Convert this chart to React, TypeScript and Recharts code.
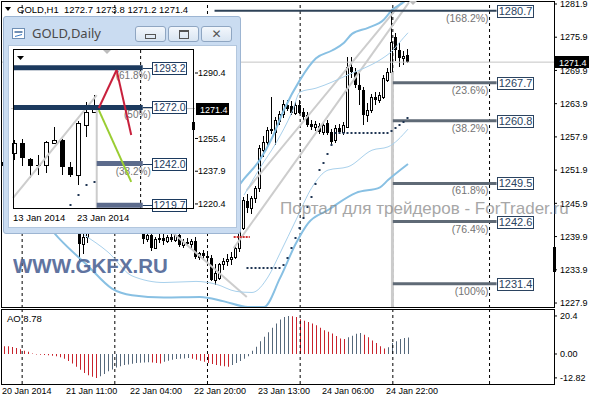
import React from "react";
import { ComposedChart, Bar, Line, Scatter, XAxis, YAxis, ReferenceLine, Cell } from "recharts";

const FONT = '"Liberation Sans", Arial, sans-serif';
const SLOTS = 138; // hourly slots, incl. the empty shift on the right
const DSLOTS = 23; // daily slots in the small window

// ---------- GOLD,H1 ----------
const priceTicks = [1281.9, 1275.9, 1269.9, 1263.9, 1257.9, 1251.9, 1245.9, 1239.9, 1233.9, 1227.9];
const lastPrice = 1271.4;
const timeTicks = [0, 16, 32, 48, 64, 80, 96];
const timeLabels = ["20 Jan 2014", "21 Jan 11:00", "22 Jan 04:00", "22 Jan 20:00", "23 Jan 13:00", "24 Jan 06:00", "24 Jan 22:00"];

// [open, high, low, close]
const h1Candles = [
  [1252.8, 1254.2, 1251.6, 1253.4], [1253.4, 1254.6, 1252.5, 1253.0], [1253.0, 1253.8, 1251.9, 1252.2],
  [1252.2, 1253.0, 1250.8, 1251.4], [1251.4, 1252.6, 1250.6, 1252.0], [1252.0, 1252.8, 1250.9, 1251.2],
  [1251.2, 1251.9, 1249.8, 1250.3], [1250.3, 1251.5, 1249.6, 1250.9], [1250.9, 1251.6, 1249.9, 1250.4],
  [1250.4, 1251.2, 1249.2, 1249.6], [1249.6, 1250.6, 1248.8, 1250.1], [1250.1, 1250.8, 1248.9, 1249.3],
  [1249.3, 1250.0, 1247.6, 1248.0], [1248.0, 1248.9, 1246.4, 1246.9], [1246.9, 1247.8, 1245.3, 1245.8],
  [1245.8, 1246.5, 1243.9, 1244.5], [1244.5, 1245.6, 1242.8, 1243.4], [1243.4, 1244.2, 1241.5, 1242.0],
  [1242.0, 1243.0, 1240.9, 1241.6], [1241.6, 1242.1, 1235.7, 1238.6], [1238.6, 1240.8, 1236.8, 1239.9],
  [1239.9, 1241.5, 1238.8, 1240.8], [1240.8, 1243.2, 1240.7, 1242.6], [1242.6, 1244.1, 1241.9, 1243.5],
  [1243.5, 1244.8, 1242.7, 1244.2], [1244.2, 1245.3, 1243.4, 1244.0], [1244.0, 1245.6, 1243.2, 1245.1],
  [1245.1, 1246.2, 1244.3, 1244.6], [1244.6, 1245.4, 1243.5, 1243.9], [1243.9, 1244.9, 1242.8, 1244.3],
  [1244.3, 1245.0, 1242.9, 1243.2], [1243.2, 1244.1, 1242.1, 1242.7], [1242.7, 1243.6, 1241.6, 1243.0],
  [1243.0, 1243.5, 1241.4, 1241.9], [1241.9, 1242.8, 1240.9, 1241.3], [1241.3, 1241.6, 1238.6, 1239.4],
  [1239.4, 1240.6, 1238.9, 1240.1], [1240.1, 1240.5, 1237.3, 1237.9], [1237.9, 1239.8, 1237.6, 1239.4],
  [1239.4, 1240.3, 1238.8, 1239.6], [1239.6, 1240.4, 1238.3, 1239.1], [1239.1, 1240.2, 1238.7, 1239.8],
  [1239.8, 1240.5, 1238.9, 1239.3], [1239.3, 1240.8, 1239.0, 1240.2], [1240.2, 1240.9, 1238.0, 1238.4],
  [1238.4, 1239.4, 1237.9, 1239.0], [1239.0, 1239.6, 1238.2, 1238.6], [1238.6, 1239.5, 1237.8, 1239.1],
  [1239.1, 1239.8, 1235.9, 1236.2], [1236.2, 1237.2, 1235.6, 1236.9], [1236.9, 1237.5, 1235.7, 1236.4],
  [1236.4, 1237.0, 1235.2, 1236.0], [1236.0, 1236.6, 1231.8, 1232.0], [1232.0, 1235.0, 1231.1, 1233.4],
  [1232.5, 1235.2, 1232.0, 1234.9], [1234.9, 1236.0, 1233.9, 1235.5], [1235.5, 1236.8, 1234.6, 1235.9],
  [1235.9, 1237.2, 1234.8, 1236.2], [1236.2, 1238.2, 1235.8, 1237.8], [1237.8, 1242.0, 1237.2, 1241.5],
  [1241.5, 1247.0, 1241.0, 1246.5], [1246.3, 1247.6, 1244.2, 1245.0], [1245.0, 1247.2, 1244.0, 1246.8],
  [1246.8, 1249.0, 1246.0, 1248.6], [1248.7, 1256.4, 1248.0, 1255.9], [1255.6, 1258.0, 1254.3, 1257.0],
  [1256.9, 1259.6, 1256.0, 1259.1], [1259.1, 1265.1, 1258.5, 1259.3], [1258.8, 1261.5, 1256.5, 1261.0],
  [1260.8, 1262.6, 1260.0, 1262.0], [1262.0, 1264.5, 1261.4, 1263.8], [1263.6, 1264.6, 1262.6, 1263.0],
  [1263.5, 1264.4, 1261.8, 1262.3], [1262.3, 1264.2, 1261.9, 1263.7], [1263.7, 1264.5, 1262.0, 1262.3],
  [1262.4, 1263.2, 1261.0, 1261.5], [1261.8, 1262.4, 1259.6, 1260.0], [1260.3, 1261.0, 1259.2, 1259.6],
  [1259.6, 1260.8, 1259.0, 1260.2], [1259.8, 1260.4, 1258.4, 1258.8], [1258.8, 1260.6, 1258.3, 1260.0],
  [1260.4, 1261.0, 1258.2, 1258.6], [1258.8, 1259.4, 1256.4, 1257.0], [1257.3, 1260.0, 1256.8, 1259.5],
  [1259.5, 1260.2, 1258.4, 1258.8], [1258.8, 1260.6, 1258.2, 1260.0], [1259.7, 1272.3, 1259.5, 1270.5],
  [1270.5, 1272.3, 1268.5, 1269.6], [1269.6, 1270.4, 1266.8, 1267.3], [1267.3, 1269.4, 1263.7, 1266.4],
  [1266.4, 1267.0, 1260.0, 1261.9], [1261.9, 1264.0, 1260.6, 1262.8], [1262.8, 1265.6, 1262.2, 1265.1],
  [1265.1, 1266.0, 1263.6, 1264.6], [1264.6, 1266.0, 1264.0, 1265.5], [1265.1, 1269.0, 1264.8, 1268.5],
  [1268.2, 1270.4, 1267.8, 1269.6], [1269.6, 1280.6, 1269.2, 1275.0], [1275.9, 1276.6, 1271.6, 1273.6],
  [1273.6, 1275.0, 1270.5, 1272.2], [1272.2, 1273.4, 1270.8, 1272.5], [1272.7, 1273.8, 1271.2, 1271.4],
];

const aoValues = [
  4.2, 4.1, 3.7, 3.2, 2.5, 1.7, 1.2, 0.3, -0.3, -0.4,
  -0.5, -0.7, -0.9, -1.2, -1.7, -2.5, -3.7, -5.1, -6.8, -8.5,
  -10.2, -11.4, -12.2, -12.82, -11.9, -10.7, -9.3, -8.3, -7.3, -6.6,
  -5.9, -5.6, -5.3, -4.9, -4.7, -4.6, -4.4, -4.6, -4.9, -5.1,
  -4.2, -3.6, -3.1, -2.7, -2.5, -2.4, -2.2, -2.5, -3.1, -3.6,
  -4.2, -4.9, -5.4, -5.9, -6.3, -6.6, -6.8, -5.9, -4.9, -3.7,
  -2.5, -1.2, 1.7, 3.9, 6.8, 9.3, 11.7, 14.1, 16.4, 18.5,
  19.8, 20.4, 20.2, 19.8, 18.6, 17.8, 17.1, 16.4, 15.4, 14.1,
  12.7, 11.9, 11.0, 9.7, 8.3, 8.0, 9.0, 9.8, 10.8, 11.2,
  10.3, 9.0, 7.3, 5.9, 4.2, 2.9, 3.6, 5.9, 6.9, 8.0,
  8.6, 8.78,
];

// band points: [bar, price]
const bbUpper = [[57, 1247.4], [60, 1250.3], [64, 1253.8], [67, 1257.7], [70, 1262.8], [74, 1268.2], [78, 1272.1],
  [82, 1273.5], [85, 1274.9], [87, 1276.5], [91, 1277.6], [95, 1279.1], [97, 1280.8], [100, 1282.3], [101, 1283.0]];
const bbInner = [[60, 1247.4], [64, 1252.3], [68, 1256.8], [72, 1262.4], [74, 1266.0], [78, 1266.7], [82, 1267.8],
  [86, 1269.1], [90, 1270.3], [94, 1271.8], [97, 1273.4], [100, 1275.9], [101, 1276.7]];
const bbLowerInner = [[20, 1240.2], [26, 1237.1], [32, 1232.8], [40, 1231.6], [48, 1231.8], [53, 1231.3], [58, 1230.0],
  [62, 1229.8], [66, 1232.6], [69, 1236.9], [73, 1242.9], [77, 1248.8], [81, 1251.9], [86, 1252.5], [92, 1255.5],
  [96, 1256.1], [101, 1259.3]];
const bbLower = [[12, 1241.0], [14, 1239.4], [21, 1234.6], [27, 1230.5], [32, 1229.3], [40, 1228.9], [49, 1229.0],
  [55, 1228.2], [61, 1227.2], [65, 1227.2], [69, 1232.4], [73, 1238.7], [76, 1242.3], [81, 1244.7], [88, 1247.8],
  [94, 1248.8], [96, 1250.1], [101, 1253.0]];

const sarFrom = 61;
const sarValues = [
  1234.2, 1234.2, 1234.2, 1234.2, 1234.2, 1234.2, 1234.2, 1234.2, 1234.2,
  1234.8, 1236.0, 1237.8, 1239.6, 1241.4, 1243.3, 1245.2, 1247.0, 1249.4, 1251.9, 1253.2, 1254.8, 1256.4,
  1258.6, 1258.6, 1258.6, 1258.6, 1258.6, 1258.6, 1258.6, 1258.6, 1258.6, 1258.6, 1258.6, 1258.6, 1258.6, 1258.6,
  1259.0, 1259.5, 1260.0, 1260.6, 1261.3,
];

const fibLevels = [
  { price: 1280.7, pct: "168.2%" },
  { price: 1267.7, pct: "23.6%" },
  { price: 1260.8, pct: "38.2%" },
  { price: 1249.5, pct: "61.8%" },
  { price: 1242.6, pct: "76.4%" },
  { price: 1231.4, pct: "100%" },
];
const gridBars = [5, 28, 51, 74, 97, 121];
// trend lines: [[bar, price], [bar, price]]
const h1Trends = [
  [[57.5, 1237.8], [101.0, 1282.2]],
  [[60.75, 1248.3], [99.2, 1282.2]],
  [[42.25, 1240.7], [60.75, 1229.0]],
];

// ---------- GOLD,Daily ----------
const dayTicks = [0, 8];
const dayLabels = ["13 Jan 2014", "23 Jan 2014"];
const dailyPriceTicks = [1290.4, 1255.4, 1237.9, 1220.4];
const dailyCandles = [
  [1247.6, 1254.6, 1243.9, 1253.0], [1253.0, 1255.1, 1240.7, 1245.0], [1244.4, 1245.0, 1234.3, 1240.7],
  [1241.4, 1246.6, 1235.9, 1241.0], [1241.4, 1254.0, 1237.0, 1253.5], [1253.0, 1261.5, 1252.5, 1254.6],
  [1254.6, 1255.0, 1235.9, 1240.2], [1240.2, 1242.8, 1234.8, 1235.9], [1235.9, 1265.0, 1230.5, 1263.7],
  [1262.6, 1274.9, 1256.2, 1269.6], [1269.8, 1278.6, 1269.2, 1271.4],
];
const dailySarFrom = 7;
const dailySar = [1219.9, 1225.2, 1230.5, 1232.2];
const dailyFibs = [
  { price: 1293.2, pct: "61.8%" },
  { price: 1272.0, pct: "50%" },
  { price: 1242.0, pct: "38.2%" },
  { price: 1219.7, pct: "" },
];
const dailyTrend = [[0.25, 1223.6], [10.25, 1278.6]];
const dailyRed = [[10.5, 1271.7], [12.625, 1292.0], [14.375, 1257.3]];
const dailyGreen = [[10.5, 1270.6], [14.375, 1232.2]];

// ---------- tables ----------
const mainData: any[] = Array.from({ length: SLOTS }, (_, i) => {
  const k = h1Candles[i];
  const s = i - sarFrom;
  return {
    i,
    o: k?.[0], h: k?.[1], l: k?.[2], c: k?.[3],
    range: k ? [k[2], k[1]] : undefined,
    ao: aoValues[i],
    sar: s >= 0 && s < sarValues.length ? sarValues[s] : undefined,
  };
});
const put = (key: string, pts: number[][]) => pts.forEach(([i, v]) => (mainData[i][key] = v));
put("bbUp", bbUpper);
put("bbIn", bbInner);
put("bbLoIn", bbLowerInner);
put("bbLo", bbLower);

// AO is red where it falls against the previous bar, slate grey where it rises
const aoColors = mainData.map((d, i) =>
  i > 0 && d.ao != null && d.ao >= aoValues[i - 1] ? "#56687b" : "#c8232c"
);

const dailyData: any[] = Array.from({ length: DSLOTS }, (_, k) => {
  const d = dailyCandles[k];
  const s = k - dailySarFrom;
  return {
    k,
    o: d?.[0], h: d?.[1], l: d?.[2], c: d?.[3],
    range: d ? [d[2], d[1]] : undefined,
    sar: s >= 0 && s < dailySar.length ? dailySar[s] : undefined,
  };
});

// ---------- shapes ----------
function Candle(props: any) {
  const { x, y, width, height, payload, half } = props;
  if (!payload || payload.c == null || y == null) return null;
  const { o, h, l, c } = payload;
  const at = (v: number) => y + ((h - v) / (h - l || 1)) * height;
  const cx = Math.round(x + width / 2);
  const top = Math.round(at(Math.max(o, c)));
  const bot = Math.round(at(Math.min(o, c)));
  const up = c >= o;
  return (
    <g shapeRendering="crispEdges">
      <line x1={cx - 0.5} x2={cx - 0.5} y1={Math.round(y)} y2={Math.round(y + height)} stroke="#000" />
      {up ? (
        <rect x={cx - 1 - half + 0.5} y={top + 0.5} width={2 * half} height={Math.max(bot - top, 1)} fill="#fff" stroke="#000" />
      ) : (
        <rect x={cx - 1 - half} y={top} width={2 * half + 1} height={Math.max(bot - top, 1)} fill="#000" />
      )}
    </g>
  );
}

function SarDot(props: any) {
  const { cx, cy, payload } = props;
  if (!payload || payload.sar == null || cy == null || isNaN(cy)) return null;
  return <rect x={Math.round(cx) - 1.5} y={Math.round(cy) - 1} width={2} height={2} fill="#1f3553" />;
}

function PriceTag(props: any) {
  const { viewBox, text, w } = props;
  if (!viewBox) return null;
  const x = viewBox.x + viewBox.width + 1;
  const y = Math.round(viewBox.y);
  return (
    <g>
      <rect x={x} y={y - 6} width={w} height={12} fill="#000" />
      <text x={x + 4} y={y + 3.5} fill="#fff" fontSize={9} fontFamily={FONT}>{text}</text>
    </g>
  );
}

function FibTag(props: any) {
  const { viewBox, price, pct, gap, boxW, fs, pctDx, pctDy, color } = props;
  if (!viewBox) return null;
  const xe = viewBox.x + viewBox.width;
  const y = Math.round(viewBox.y);
  const bx = Math.round(xe + gap) + 0.5;
  return (
    <g>
      {gap > 0 && <line x1={xe} x2={bx} y1={y + 0.5} y2={y + 0.5} stroke={color} />}
      {pct ? (
        <text x={xe + pctDx} y={y + pctDy} textAnchor="end" fontSize={fs - 0.5} fill="#747474" fontFamily={FONT}>({pct})</text>
      ) : null}
      <rect x={bx} y={y - 5.5} width={boxW} height={12} fill="#fff" stroke={color} />
      <text x={bx + boxW / 2} y={y + 4} textAnchor="middle" fontSize={fs} fill={color} fontFamily={FONT}>{price.toFixed(1)}</text>
    </g>
  );
}

const TimeTick = (props: any) => {
  const { x, y, payload } = props;
  const idx = timeTicks.indexOf(payload.value);
  return (
    <text x={x - 2} y={y} dy="0.71em" fontSize={9} fontFamily={FONT} fill="#000">{timeLabels[idx]}</text>
  );
};

const DayTick = (props: any) => {
  const { x, y, payload } = props;
  const idx = dayTicks.indexOf(payload.value);
  return (
    <text x={x - 2} y={y} dy="0.71em" fontSize={9.5} fontFamily={FONT} fill="#000">{dayLabels[idx]}</text>
  );
};

const axisTick = { fontSize: 9, fill: "#000", fontFamily: FONT };

function MainChart() {
  return (
    <ComposedChart width={596} height={310} data={mainData} margin={{ top: 2, right: 0, bottom: 2, left: 2 }}>
      <XAxis dataKey="i" hide />
      <XAxis xAxisId="n" type="number" domain={[0, SLOTS]} hide allowDataOverflow />
      <YAxis orientation="right" width={42} domain={[1227.0, 1282.26]} allowDataOverflow ticks={priceTicks} interval={0}
        tickFormatter={(v: number) => v.toFixed(1)} tick={axisTick} tickLine={{ stroke: "#000" }} tickSize={3}
        tickMargin={3} axisLine={false} />
      {gridBars.map((g) => (
        <ReferenceLine key={g} xAxisId="n" x={g} stroke="#000" strokeDasharray="3 3" />
      ))}
      <ReferenceLine y={lastPrice} stroke="#c4c4c4" label={<PriceTag text={lastPrice.toFixed(1)} w={34} />} />
      {h1Trends.map((t, n) => (
        <ReferenceLine key={"t" + n} xAxisId="n" segment={[{ x: t[0][0], y: t[0][1] }, { x: t[1][0], y: t[1][1] }]}
          stroke="#cdcdcd" strokeWidth={2} ifOverflow="hidden" />
      ))}
      <ReferenceLine xAxisId="n" segment={[{ x: 96.9, y: 1269.6 }, { x: 96.9, y: 1227.0 }]} stroke="#cccccc" strokeWidth={3} />
      <ReferenceLine xAxisId="n" segment={[{ x: 57.5, y: 1239.8 }, { x: 61.5, y: 1239.8 }]} stroke="#d03030"
        strokeWidth={2} strokeDasharray="2 1" />
      <Line dataKey="bbUp" stroke="#88c0e3" strokeWidth={2} dot={false} connectNulls type="monotone" isAnimationActive={false} />
      <Line dataKey="bbIn" stroke="#a9d1ec" strokeWidth={1} dot={false} connectNulls type="monotone" isAnimationActive={false} />
      <Line dataKey="bbLoIn" stroke="#a9d1ec" strokeWidth={1} dot={false} connectNulls type="monotone" isAnimationActive={false} />
      <Line dataKey="bbLo" stroke="#88c0e3" strokeWidth={2} dot={false} connectNulls type="monotone" isAnimationActive={false} />
      <Bar dataKey="range" shape={(p: any) => <Candle {...p} half={1} />} isAnimationActive={false} />
      <Scatter dataKey="sar" shape={SarDot} isAnimationActive={false} />
      {fibLevels.map((f, n) => (
        <ReferenceLine key={f.pct} xAxisId="n"
          segment={[{ x: n === 0 ? 52.75 : 97, y: f.price }, { x: 122.75, y: f.price }]}
          stroke={n === 0 ? "#2e4257" : "#5f6a76"} strokeWidth={n === 0 ? 2 : 3}
          label={<FibTag price={f.price} pct={f.pct} gap={0} boxW={36} fs={11} pctDx={-8} pctDy={11} color="#2b4360" />} />
      ))}
    </ComposedChart>
  );
}

function AoChart() {
  return (
    <ComposedChart width={596} height={92} data={mainData} margin={{ top: 2, right: 0, bottom: 0, left: 2 }}>
      <XAxis dataKey="i" height={16} ticks={timeTicks} interval={0} tick={(p: any) => <TimeTick {...p} />}
        tickLine={false} axisLine={false} tickSize={0} tickMargin={4} />
      <XAxis xAxisId="n" type="number" domain={[0, SLOTS]} hide allowDataOverflow />
      <YAxis orientation="right" width={42} domain={[-16.1, 23.6]} ticks={[20.4, 0, -12.82]} interval={0}
        tickFormatter={(v: number) => (v === 0 ? "0.00" : String(v))} tick={axisTick} tickLine={{ stroke: "#000" }}
        tickSize={3} tickMargin={3} axisLine={false} />
      {gridBars.map((g) => (
        <ReferenceLine key={g} xAxisId="n" x={g} stroke="#000" strokeDasharray="3 3" />
      ))}
      <Bar dataKey="ao" barSize={1} isAnimationActive={false}>
        {mainData.map((d, i) => (
          <Cell key={i} fill={aoColors[i]} />
        ))}
      </Bar>
    </ComposedChart>
  );
}

function DailyChart() {
  return (
    <ComposedChart width={240} height={232} data={dailyData} margin={{ top: 50, right: 0, bottom: 0, left: 11 }}>
      <XAxis dataKey="k" height={23} ticks={dayTicks} interval={0} tick={(p: any) => <DayTick {...p} />}
        tickLine={false} axisLine={false} tickSize={0} tickMargin={5} />
      <XAxis xAxisId="n" type="number" domain={[0, DSLOTS]} hide allowDataOverflow />
      <YAxis orientation="right" width={45} domain={[1217.7, 1302.7]} allowDataOverflow ticks={dailyPriceTicks}
        interval={0} tickFormatter={(v: number) => v.toFixed(1)} tick={axisTick} tickLine={{ stroke: "#000" }}
        tickSize={3} tickMargin={0} axisLine={false} />
      <ReferenceLine xAxisId="n" x={15.5} stroke="#000" strokeDasharray="3 3" />
      <ReferenceLine y={lastPrice} stroke="#c4c4c4" label={<PriceTag text={lastPrice.toFixed(1)} w={33} />} />
      <ReferenceLine xAxisId="n" segment={[{ x: dailyTrend[0][0], y: dailyTrend[0][1] }, { x: dailyTrend[1][0], y: dailyTrend[1][1] }]}
        stroke="#cdcdcd" strokeWidth={2} />
      <ReferenceLine xAxisId="n" segment={[{ x: 10.25, y: 1271.7 }, { x: 10.25, y: 1217.7 }]} stroke="#cccccc" strokeWidth={2} />
      <Bar dataKey="range" shape={(p: any) => <Candle {...p} half={2} />} isAnimationActive={false} />
      <Scatter dataKey="sar" shape={SarDot} isAnimationActive={false} />
      {dailyFibs.map((f, n) => (
        <ReferenceLine key={f.price} xAxisId="n"
          segment={[{ x: n < 2 ? 0.25 : 10.25, y: f.price }, { x: 15.75, y: f.price }]}
          stroke={n < 2 ? "#1c3a5e" : "#5c6b8c"} strokeWidth={5}
          label={<FibTag price={f.price} pct={f.pct} gap={9} boxW={34} fs={10.5} pctDx={8} pctDy={11} color="#1c3a5e" />} />
      ))}
      {dailyRed.slice(1).map((p, n) => (
        <ReferenceLine key={"r" + n} xAxisId="n"
          segment={[{ x: dailyRed[n][0], y: dailyRed[n][1] }, { x: p[0], y: p[1] }]} stroke="#c8203c" strokeWidth={2} />
      ))}
      <ReferenceLine xAxisId="n" segment={[{ x: dailyGreen[0][0], y: dailyGreen[0][1] }, { x: dailyGreen[1][0], y: dailyGreen[1][1] }]}
        stroke="#9acd32" strokeWidth={2} />
    </ComposedChart>
  );
}

const abs = (left: number, top: number, extra: React.CSSProperties = {}): React.CSSProperties => ({
  position: "absolute", left, top, ...extra,
});

function WinButton({ left, children }: { left: number; children: React.ReactNode }) {
  return (
    <div style={abs(left, 26, {
      width: 31, height: 16, boxSizing: "border-box", border: "1px solid #8fa6c2", borderRadius: 3,
      background: "linear-gradient(#f3f7fc, #d9e5f2)", display: "flex", alignItems: "center", justifyContent: "center",
    })}>{children}</div>
  );
}

export default function App() {
  return (
    <div style={{ position: "relative", width: 596, height: 400, background: "#fff", overflow: "hidden", fontFamily: FONT }}>
      <style>{"body{margin:0}"}</style>
      <div style={abs(0, 0)}><MainChart /></div>
      <div style={abs(0, 308)}><AoChart /></div>

      <svg width={596} height={400} style={abs(0, 0, { pointerEvents: "none" })}>
        <rect x={1.5} y={1.5} width={553} height={306} fill="none" stroke="#000" />
        <rect x={1.5} y={309.5} width={553} height={75} fill="none" stroke="#000" />
        <rect x={553} y={247} width={3} height={25} fill="#000" />
        <polygon points="409,1 417,1 413,5" fill="#bdbdbd" />
        <polygon points="5,7 11,7 8,11" fill="#000" />
        <text x={17} y={12.5} fontSize={9.5} fill="#000" style={{ whiteSpace: "pre" }}>GOLD,H1  1272.7 1273.8 1271.2 1271.4</text>
        <text x={7} y={322} fontSize={9.5} fill="#000">AO 8.78</text>
        <text x={13} y={273} fontSize={20.5} fontWeight="bold" fill="#4f6596" opacity={0.9}>WWW.GKFX.RU</text>
        <text x={280} y={214} fontSize={17} fill="#8a8a8a" opacity={0.75}>Портал для трейдеров - ForTrader.ru</text>
      </svg>

      {/* GOLD,Daily window */}
      <div style={abs(3, 16, { width: 238, height: 218, boxSizing: "border-box", background: "#cadcf1", border: "1px solid #9db5d2", borderRadius: 3 })} />
      <div style={abs(8, 45, { width: 229, height: 183, boxSizing: "border-box", background: "#fff", border: "1px solid #b3c7de" })} />
      <div style={abs(0, 0)}><DailyChart /></div>
      <svg width={245} height={240} style={abs(0, 0, { pointerEvents: "none" })}>
        <rect x={13.5} y={49.5} width={180} height={159} fill="none" stroke="#000" />
        <rect x={192} y={122} width={3} height={8} fill="#000" />
        <polygon points="103,50 111,50 107,54" fill="#bdbdbd" />
        <polygon points="17,56 24,56 20.5,60" fill="#000" />
        <rect x={12.5} y={28.5} width={12} height={10} fill="#fff" stroke="#6f8fb5" />
        <rect x={14.5} y={31} width={8} height={2} fill="#6f8fb5" />
        <line x1={15} x2={22} y1={36.5} y2={34.5} stroke="#3d7cc4" />
        <text x={32} y={38} fontSize={13} fill="#4a4a4a" fontFamily='"Noto Sans", "DejaVu Sans", sans-serif'>GOLD,Daily</text>
      </svg>
      <WinButton left={135}><div style={{ width: 9, height: 3, border: "1px solid #555", marginTop: 5 }} /></WinButton>
      <WinButton left={168}><div style={{ width: 8, height: 6, border: "1px solid #555", borderTopWidth: 2 }} /></WinButton>
      <WinButton left={201}><span style={{ fontSize: 12, fontWeight: "bold", color: "#555", lineHeight: "12px", fontFamily: "DejaVu Sans" }}>✕</span></WinButton>
    </div>
  );
}
